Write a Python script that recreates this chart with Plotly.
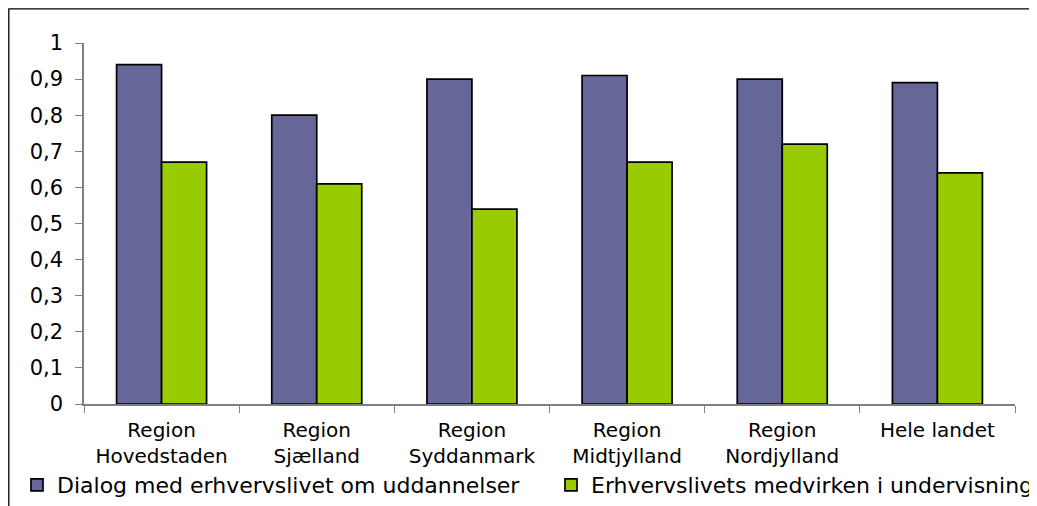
import plotly.graph_objects as go

categories = [
    "Region<br>Hovedstaden", "Region<br>Sjælland", "Region<br>Syddanmark",
    "Region<br>Midtjylland", "Region<br>Nordjylland", "Hele landet",
]
dialog = [0.94, 0.80, 0.90, 0.91, 0.90, 0.89]
medvirken = [0.67, 0.61, 0.54, 0.67, 0.72, 0.64]
series_names = [
    "Dialog med erhvervslivet om uddannelser",
    "Erhvervslivets medvirken i undervisning",
]

BLUE = "#666699"
GREEN = "#99CC00"
AXIS = "#808080"

# page has an 8px body margin, so figure coords = page coords - 8
W, H = 1029, 498
L, R, T, B = 76, 22, 35, 102
pw, ph = W - L - R, H - T - B


def px_x(x):
    return (x - L) / pw


def px_y(y):
    return (H - B - y) / ph


fig = go.Figure()
fig.add_trace(go.Bar(
    x=categories, y=dialog, name=series_names[0], legend="legend",
    marker=dict(color=BLUE, line=dict(color="black", width=1.7)),
))
fig.add_trace(go.Bar(
    x=categories, y=medvirken, name=series_names[1], legend="legend2",
    marker=dict(color=GREEN, line=dict(color="black", width=1.7)),
))

# outer chart frame
fig.add_shape(
    type="rect", xref="paper", yref="paper",
    x0=px_x(0.8), x1=px_x(1022), y0=px_y(510), y1=px_y(0.8),
    line=dict(color="black", width=1.3), fillcolor="rgba(0,0,0,0)",
    layer="below",
)

legend_style = dict(
    orientation="h", xanchor="left", yanchor="middle", y=px_y(477),
    font=dict(size=22), bgcolor="rgba(0,0,0,0)",
)

fig.update_layout(
    width=W, height=H,
    margin=dict(l=L, r=R, t=T, b=B, autoexpand=False),
    paper_bgcolor="white", plot_bgcolor="white",
    font=dict(family="DejaVu Sans", color="black", size=20),
    separators=", ",
    barmode="group", bargap=0.42, bargroupgap=0,
    showlegend=True,
    legend=dict(x=px_x(9), **legend_style),
    legend2=dict(x=px_x(543), **legend_style),
    xaxis=dict(
        showline=True, linecolor=AXIS, linewidth=1.5,
        ticks="outside", tickson="boundaries", ticklen=7, tickcolor=AXIS,
        ticklabelstandoff=7,
        tickfont=dict(size=20), showgrid=False, automargin=False,
    ),
    yaxis=dict(
        range=[0, 1], dtick=0.1, tickformat=".1~f",
        showline=True, linecolor=AXIS, linewidth=1.5,
        ticks="outside", ticklen=7, tickcolor=AXIS, ticklabelstandoff=8,
        tickfont=dict(size=21), showgrid=False, zeroline=False, automargin=False,
    ),
)

fig.write_html("out.html")
